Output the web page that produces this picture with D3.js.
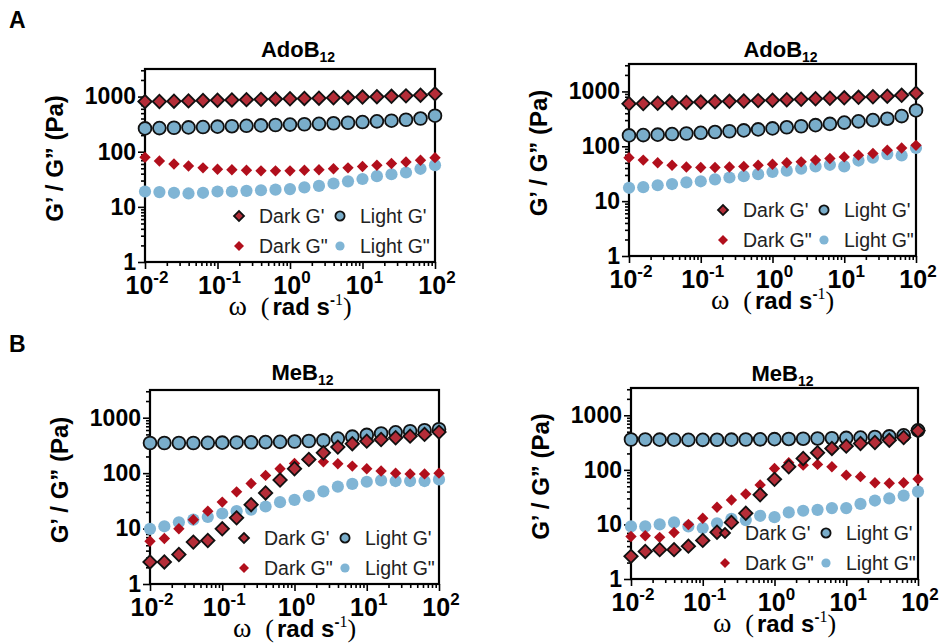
<!DOCTYPE html>
<html>
<head>
<meta charset="utf-8">
<script src="https://cdn.jsdelivr.net/npm/d3@7"></script>
<style>
  body { margin: 0; background: #fff; }
  svg { display: block; font-family: "Liberation Sans", Arial, sans-serif; }
</style>
</head>
<body>
<div id="chart"></div>
<script>
/* Frequency sweeps, G' and G'' for AdoB12 / MeB12 in dark and light */

const width = 939, height = 644;

// angular frequency grid (rad/s), 5 points per decade
const omega = [0.01, 0.0158, 0.0251, 0.0398, 0.0631, 0.1, 0.158, 0.251, 0.398, 0.631,
  1, 1.58, 2.51, 3.98, 6.31, 10, 15.8, 25.1, 39.8, 63.1, 100];

// A, left panel (AdoB12)
const a1DarkG1 = [810, 815, 825, 835, 850, 860, 870, 880, 890, 900, 915, 925, 935, 950, 965, 980, 995, 1010, 1030, 1060, 1120];
const a1DarkG2 = [79, 68, 60, 55, 51, 48, 47, 46, 45, 45, 45, 46, 47, 49, 51, 54, 57, 61, 65, 70, 78];
const a1LightG1 = [265, 268, 272, 276, 280, 285, 290, 295, 300, 305, 310, 315, 320, 328, 335, 345, 355, 365, 380, 400, 450];
const a1LightG2 = [19, 18.5, 18, 17.5, 18, 19, 19, 19.5, 20, 20.5, 21, 22.5, 24, 26.5, 29, 32, 36, 39, 42, 49, 57];

// A, right panel (AdoB12)
const a2DarkG1 = [595, 600, 610, 620, 630, 640, 650, 660, 670, 680, 690, 705, 720, 735, 750, 765, 780, 800, 820, 850, 930];
const a2DarkG2 = [62, 56, 50, 45, 42, 41, 41, 42, 43, 45, 47, 50, 52, 56, 60, 64, 69, 74, 85, 93, 104];
const a2LightG1 = [158, 160, 163, 167, 171, 176, 182, 188, 195, 203, 212, 222, 232, 243, 256, 270, 285, 300, 318, 355, 450];
const a2LightG2 = [17.5, 18, 19.5, 20.5, 22, 23, 25, 27, 28.5, 31, 34, 36, 39, 43, 46, 43, 55, 62, 72, 68, 93];

// B, left panel (MeB12)
const b1DarkG1 = [2.5, 2.5, 3.4, 5.7, 6.1, 9.9, 15.6, 27, 44, 75, 120, 177, 233, 295, 340, 378, 405, 435, 465, 500, 550];
const b1DarkG2 = [5.9, 6.6, 9.9, 14.5, 20.6, 30, 46, 65, 91, 120, 150, 165, 160, 148, 134, 120, 109, 100, 97, 97, 100];
const b1LightG1 = [350, 350, 350, 350, 352, 355, 358, 360, 363, 367, 372, 380, 390, 420, 455, 490, 520, 545, 570, 595, 620];
const b1LightG2 = [9.9, 11, 13, 14.5, 16.2, 18.7, 20.6, 22, 25, 30, 33, 39, 47, 57, 64, 70, 74, 72, 72, 72, 77];

// B, right panel (MeB12)
const b2DarkG1 = [2.6, 3.2, 3.45, 3.45, 4.0, 5.1, 7.2, 10.9, 16, 35, 67, 114, 162, 206, 247, 272, 304, 317, 350, 392, 518];
const b2DarkG2 = [6.0, 6.2, 5.8, 7.1, 10, 13, 20.7, 28, 36, 53, 106, 135, 122, 126, 114, 80, 75, 58, 57, 58, 68];
const b2LightG1 = [360, 360, 358, 357, 355, 355, 356, 358, 360, 362, 365, 368, 372, 376, 380, 385, 390, 400, 410, 430, 530];
const b2LightG2 = [9.2, 9.2, 10, 10.9, 9.2, 8.6, 10.5, 12.7, 12, 14.4, 13.6, 16.6, 17.8, 18.5, 19.9, 19.9, 23.8, 27.4, 30, 33.8, 40];

const yTicks = [1, 10, 100, 1000];
const yTickLabels = ["1", "10", "100", "1000"];
const xTicks = [0.01, 0.1, 1, 10, 100];
const xTickExps = ["-2", "-1", "0", "1", "2"];

// series styles, listed in drawing order
const styles = [
  { name: "Light G\"", shape: "circle", size: 6.1, fill: "#80b5d5", stroke: "none" },
  { name: "Light G'", shape: "circle", size: 6.4, fill: "#79adca", stroke: "#111" },
  { name: "Dark G\"", shape: "diamond", size: 5.7, fill: "#b10f1c", stroke: "none" },
  { name: "Dark G'", shape: "diamond", size: 6.7, fill: "#b42d38", stroke: "#111" }
];

const panels = [
  { letter: "A", title: "AdoB", left: 145, right: 435, top: 69, bottom: 262, titleY: 57,
    series: [a1LightG2, a1LightG1, a1DarkG2, a1DarkG1] },
  { letter: null, title: "AdoB", left: 629, right: 916, top: 64, bottom: 256, titleY: 57,
    series: [a2LightG2, a2LightG1, a2DarkG2, a2DarkG1] },
  { letter: "B", title: "MeB", left: 150, right: 439, top: 390, bottom: 584, titleY: 380,
    series: [b1LightG2, b1LightG1, b1DarkG2, b1DarkG1] },
  { letter: null, title: "MeB", left: 631, right: 918, top: 388, bottom: 579, titleY: 381,
    series: [b2LightG2, b2LightG1, b2DarkG2, b2DarkG1] }
];

const serif = "Liberation Serif, Times New Roman, serif";

const svg = d3.select("#chart")
  .append("svg")
  .attr("width", width)
  .attr("height", height)
  .attr("viewBox", [0, 0, width, height]);

function marker(st, s) {
  if (st.shape === "circle") return d3.symbol(d3.symbolCircle, Math.PI * s * s)();
  return d3.symbol(d3.symbolSquare, 2 * s * s)();
}

// minor tick positions on the log axes
const yMinor = [], xMinor = [];
for (let e = 0; e < 4; e++) for (let m = 2; m < 10; m++) if (m * 10 ** e <= 3200) yMinor.push(m * 10 ** e);
for (let e = -2; e < 2; e++) for (let m = 2; m < 10; m++) xMinor.push(m * 10 ** e);

panels.forEach(p => {
  const g = svg.append("g");

  const x = d3.scaleLog().domain([0.01, 100]).range([p.left, p.right]);
  const y = d3.scaleLog().domain([1, 10 ** 3.5]).range([p.bottom, p.top]);

  if (p.letter) {
    svg.append("text")
      .attr("x", 9)
      .attr("y", p.top < 100 ? 28 : 352)
      .attr("font-size", 23)
      .attr("font-weight", "bold")
      .text(p.letter);
  }

  // title with subscript
  const t = g.append("text")
    .attr("x", (p.left + p.right) / 2 + 8)
    .attr("y", p.titleY)
    .attr("text-anchor", "middle")
    .attr("font-size", 22)
    .attr("font-weight", "bold")
    .text(p.title);
  t.append("tspan").attr("font-size", 14).attr("dy", 5).text("12");

  // y axis ticks
  const yAx = g.append("g")
    .attr("transform", `translate(${p.left},0)`)
    .call(d3.axisLeft(y).tickValues(yTicks).tickSize(7).tickPadding(2)
      .tickFormat((d, i) => yTickLabels[i]));
  g.append("g")
    .attr("transform", `translate(${p.left},0)`)
    .call(d3.axisLeft(y).tickValues(yMinor).tickSize(4).tickFormat(""));

  // x axis ticks
  g.append("g")
    .attr("transform", `translate(0,${p.bottom})`)
    .call(d3.axisBottom(x).tickValues(xTicks).tickSize(7).tickFormat(""));
  g.append("g")
    .attr("transform", `translate(0,${p.bottom})`)
    .call(d3.axisBottom(x).tickValues(xMinor).tickSize(4).tickFormat(""));

  g.selectAll(".domain").remove();
  g.selectAll(".tick line").attr("stroke", "#000").attr("stroke-width", 1.6);
  yAx.selectAll("text")
    .attr("font-size", 23)
    .attr("font-weight", "bold")
    .attr("fill", "#000")
    .attr("font-family", "Liberation Sans, Arial, sans-serif");

  // x tick labels 10^n
  const xl = g.selectAll(".xlab")
    .data(xTicks)
    .join("text")
    .attr("class", "xlab")
    .attr("x", d => x(d) + 2)
    .attr("y", p.bottom + 32)
    .attr("text-anchor", "middle")
    .attr("font-size", 25)
    .attr("font-weight", "bold");
  xl.append("tspan").text("10");
  xl.append("tspan").attr("font-size", 17).attr("dy", -11).text((d, i) => xTickExps[i]);

  // frame
  g.append("rect")
    .attr("x", p.left)
    .attr("y", p.top)
    .attr("width", p.right - p.left)
    .attr("height", p.bottom - p.top)
    .attr("fill", "none")
    .attr("stroke", "#000")
    .attr("stroke-width", 2.2);

  // x axis title
  const xt = g.append("text")
    .attr("x", (p.left + p.right) / 2)
    .attr("y", p.bottom + 53)
    .attr("text-anchor", "middle");
  xt.append("tspan").attr("font-family", serif).attr("font-size", 28).text("ω");
  xt.append("tspan").attr("font-family", serif).attr("font-size", 26).attr("dx", 14).text("(");
  xt.append("tspan").attr("font-size", 24).attr("font-weight", "bold").attr("dx", 3).text("rad s");
  xt.append("tspan").attr("font-size", 15).attr("font-weight", "bold").attr("dy", -10).text("-");
  xt.append("tspan").attr("font-family", serif).attr("font-size", 16).text("1");
  xt.append("tspan").attr("font-family", serif).attr("font-size", 26).attr("dy", 10).text(")");

  // y axis title
  g.append("text")
    .attr("transform", `translate(${p.left - 82},${(p.top + p.bottom) / 2 - 7}) rotate(-90)`)
    .attr("text-anchor", "middle")
    .attr("font-size", 24)
    .attr("font-weight", "bold")
    .text("G’ / G” (Pa)");

  // data points
  styles.forEach((st, k) => {
    g.append("g")
      .selectAll("path")
      .data(p.series[k].map((v, i) => ({ w: omega[i], v: v })))
      .join("path")
      .attr("d", marker(st, st.size))
      .attr("transform", d => `translate(${x(d.w)},${y(d.v)})` + (st.shape === "diamond" ? " rotate(45)" : ""))
      .attr("fill", st.fill)
      .attr("stroke", st.stroke)
      .attr("stroke-width", 1.8);
  });

  // legend: Dark G' / Light G' on top row, Dark G" / Light G" below
  const legend = [
    { st: styles[3], col: 0, row: 0 },
    { st: styles[1], col: 1, row: 0 },
    { st: styles[2], col: 0, row: 1 },
    { st: styles[0], col: 1, row: 1 }
  ];
  legend.forEach(l => {
    const lx = p.left + 94 + l.col * 101;
    const ly = p.bottom - 46 + l.row * 30;
    g.append("path")
      .attr("d", marker(l.st, l.st.shape === "circle" ? 4.6 : 5))
      .attr("transform", `translate(${lx},${ly})` + (l.st.shape === "diamond" ? " rotate(45)" : ""))
      .attr("fill", l.st.fill)
      .attr("stroke", l.st.stroke)
      .attr("stroke-width", 1.8);
    g.append("text")
      .attr("x", lx + 20)
      .attr("y", ly)
      .attr("dy", "0.36em")
      .attr("font-size", 19.5)
      .attr("fill", "#222")
      .text(l.st.name);
  });
});
</script>
</body>
</html>
